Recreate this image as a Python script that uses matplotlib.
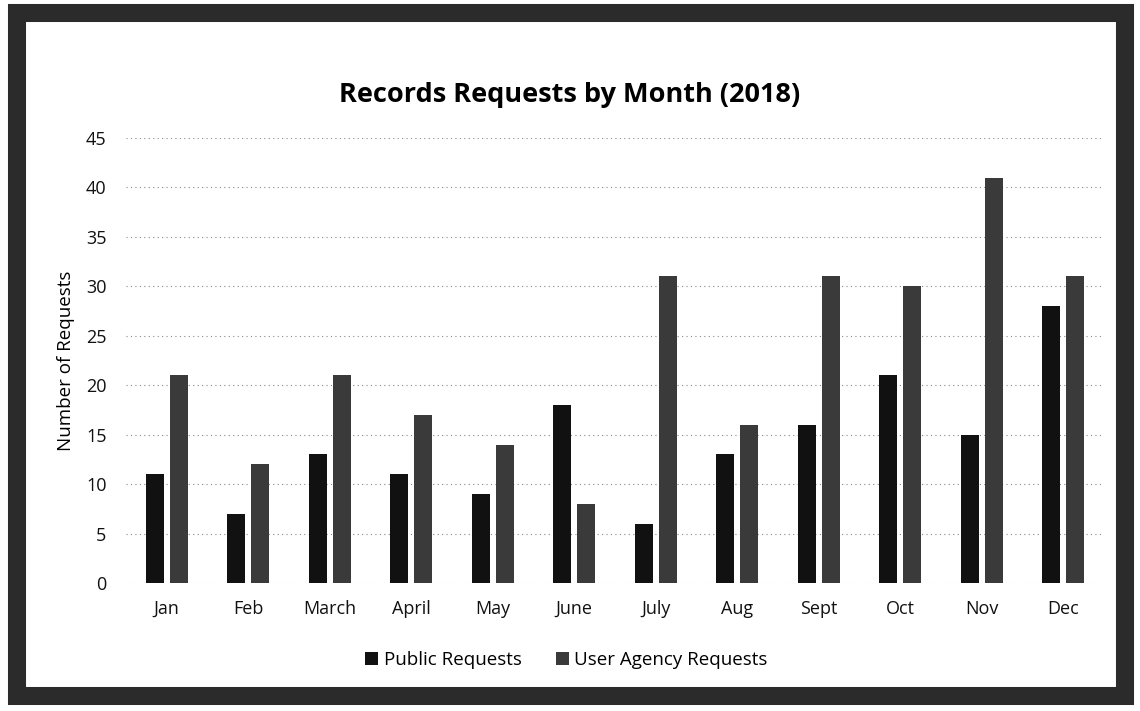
import numpy as np
import matplotlib.pyplot as plt
from matplotlib.patches import Rectangle

months = ["Jan", "Feb", "March", "April", "May", "June", "July", "Aug", "Sept", "Oct", "Nov", "Dec"]
public = [11, 7, 13, 11, 9, 18, 6, 13, 16, 21, 15, 28]
agency = [21, 12, 21, 17, 14, 8, 31, 16, 31, 30, 41, 31]
yticks = [0, 5, 10, 15, 20, 25, 30, 35, 40, 45]

plt.rcParams['font.family'] = ['Open Sans', 'DejaVu Sans']

fig = plt.figure(figsize=(11.4, 7.11), dpi=100)
# scanned frame around the chart
fig.patches.append(Rectangle((0.0145, 0.021), 0.972, 0.961, transform=fig.transFigure,
                             fill=False, edgecolor='#2b2b2b', linewidth=13, zorder=10))

ax = fig.add_axes([126 / 1140, 1 - 583 / 711, (1104 - 126) / 1140, (583 - 138) / 711])

x = np.arange(len(months))
w = 0.22
ax.bar(x - 0.147, public, w, color='#111111', label='Public Requests', zorder=3)
ax.bar(x + 0.147, agency, w, color='#3a3a3a', label='User Agency Requests', zorder=3)

ax.set_xlim(-0.5, len(months) - 0.5)
ax.set_ylim(0, 45)
ax.set_yticks(yticks)
ax.set_xticks(x)
ax.set_xticklabels(months)
ax.tick_params(axis='both', length=0, labelsize=13, colors='#111111')
ax.tick_params(axis='x', pad=12)
ax.tick_params(axis='y', pad=14)
ax.yaxis.grid(True, linestyle=(0, (1, 3)), color='#888888', linewidth=0.8, zorder=0)
for s in ax.spines.values():
    s.set_visible(False)

ax.set_ylabel("Number of Requests", fontsize=13.5, labelpad=8)
fig.text(0.5, 1 - 95 / 711, "Records Requests by Month (2018)", ha='center', va='center',
         fontsize=19.5, fontweight='bold')

fig.legend(loc='center', bbox_to_anchor=(0.497, 1 - 660 / 711), ncol=2, frameon=False,
           fontsize=13.5, handlelength=0.7, handleheight=0.7, handletextpad=0.3, columnspacing=1.8)

fig.savefig("out.png", dpi=100)
